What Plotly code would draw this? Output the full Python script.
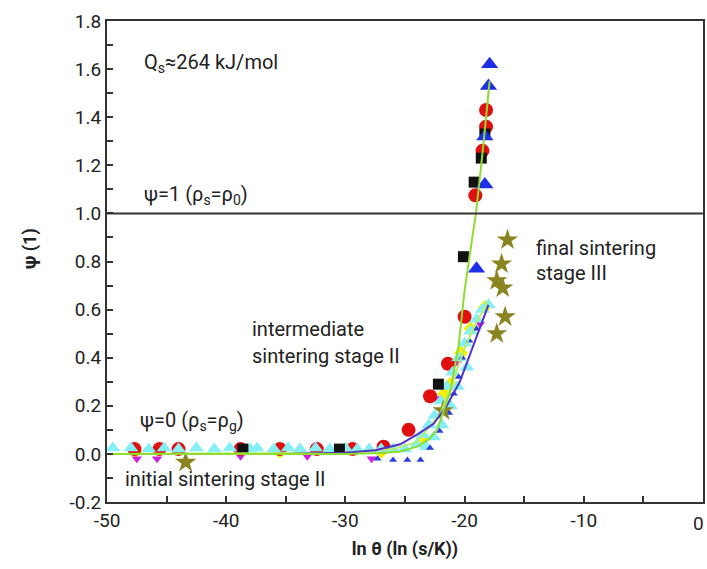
import plotly.graph_objects as go

# ---------------- data ----------------
red_x = [-47.7, -45.6, -44.0, -38.8, -35.5, -32.4, -29.4, -26.8, -24.7, -22.9, -21.4, -20.0, -19.1, -18.5, -18.2, -18.2]
red_y = [0.02, 0.02, 0.02, 0.02, 0.02, 0.02, 0.02, 0.03, 0.10, 0.24, 0.375, 0.57, 1.075, 1.26, 1.36, 1.43]

black_x = [-38.6, -30.5, -22.2, -20.1, -19.2, -18.6, -18.3]
black_y = [0.02, 0.02, 0.29, 0.82, 1.13, 1.23, 1.33]

blue_x = [-19.0, -18.3, -18.3, -18.0, -17.9]
blue_y = [0.77, 1.12, 1.32, 1.53, 1.62]

star_x = [-43.4, -21.8, -17.3, -16.6, -16.8, -17.3, -16.9, -16.4]
star_y = [-0.035, 0.18, 0.50, 0.57, 0.69, 0.72, 0.79, 0.89]

cyan_x = [-49.5, -48.0, -46.5, -45.2, -44.0, -42.5, -41.0, -39.7, -38.0, -37.4, -36.0, -34.8, -33.8,
          -32.5, -31.3, -30.0, -29.0, -28.0, -27.0, -26.0, -25.0, -24.0, -23.5, -23.0, -22.5, -22.0,
          -21.5, -21.0, -20.5, -20.0, -19.5, -19.0, -18.5, -18.0, -23.2, -22.6, -21.9, -21.2, -20.6, -19.8]
cyan_y = [0.025, 0.025, 0.02, 0.025, 0.02, 0.025, 0.02, 0.025, 0.02, 0.025, 0.02, 0.025, 0.02,
          0.025, 0.02, 0.025, 0.02, 0.02, 0.02, 0.02, 0.02, 0.04, 0.08, 0.12, 0.16, 0.22,
          0.28, 0.34, 0.40, 0.46, 0.51, 0.56, 0.60, 0.62, 0.03, 0.07, 0.12, 0.20, 0.28, 0.36]

yellow_x = [-47.6, -35.5, -27.0, -23.5, -21.7, -21.2, -20.3, -19.5, -18.3]
yellow_y = [0.01, 0.01, 0.01, 0.07, 0.25, 0.29, 0.42, 0.52, 0.61]

magenta_x = [-47.5, -45.8, -38.8, -33.2, -27.8, -22.3, -20.6, -18.7]
magenta_y = [-0.02, -0.02, -0.01, -0.01, -0.02, 0.23, 0.38, 0.54]

sblue_x = [-27.3, -26.0, -24.8, -23.7, -22.9, -22.1, -21.3, -20.9, -20.5, -20.2, -19.6, -19.0]
sblue_y = [-0.02, -0.025, -0.025, -0.025, 0.025, 0.095, 0.17, 0.25, 0.32, 0.40, 0.47, 0.52]

green_x = [-50, -40, -30, -27, -25.4, -24.0, -23.0, -22.3, -21.2, -20.5, -20.0, -19.5, -19.05, -18.5, -18.0, -17.9]
green_y = [0.0, 0.0, 0.0, 0.004, 0.01, 0.03, 0.06, 0.10, 0.26, 0.45, 0.68, 0.85, 1.0, 1.25, 1.5, 1.55]

lgreen_x = [-50, -30, -26, -24, -22, -21, -20, -19, -18]
lgreen_y = [0.0, 0.005, 0.02, 0.05, 0.17, 0.30, 0.44, 0.55, 0.63]

purple_x = [-50, -35, -30, -27.5, -25.4, -24.0, -22.6, -21.5, -20.4, -19.3, -18.0]
purple_y = [0.0, 0.0, 0.005, 0.015, 0.04, 0.08, 0.125, 0.20, 0.30, 0.45, 0.62]

x_ticks = [-50, -40, -30, -20, -10, 0]
x_labels = ["-50", "-40", "-30", "-20", "-10", ""]
y_ticks = [-0.2, 0.0, 0.2, 0.4, 0.6, 0.8, 1.0, 1.2, 1.4, 1.6, 1.8]

# ---------------- figure ----------------
fig = go.Figure()

def sc(x, y, sym, color, size):
    fig.add_trace(go.Scatter(x=x, y=y, mode="markers",
                             marker=dict(symbol=sym, color=color, size=size, line=dict(width=0)),
                             showlegend=False, hoverinfo="skip"))

sc(yellow_x, yellow_y, "diamond", "#f4f000", 11)
sc(magenta_x, magenta_y, "triangle-down", "#d020e0", 9)
sc(red_x, red_y, "circle", "#e01010", 14)
sc(cyan_x, cyan_y, "triangle-up", "#86eef5", 13)
sc(sblue_x, sblue_y, "triangle-up", "#2a3ee0", 7)
sc(black_x, black_y, "square", "#111111", 11)
sc(blue_x, blue_y, "triangle-up", "#1f2fe8", 15)
sc(star_x, star_y, "star", "#8a8420", 16)

for xs, ys, col, w in [(lgreen_x, lgreen_y, "#b8ee70", 2),
                       (purple_x, purple_y, "#5032c8", 2),
                       (green_x, green_y, "#8fdc2f", 2)]:
    fig.add_trace(go.Scatter(x=xs, y=ys, mode="lines", line=dict(color=col, width=w),
                             showlegend=False, hoverinfo="skip"))

fig.add_shape(type="line", xref="paper", x0=0, x1=1, yref="y", y0=1.0, y1=1.0,
              line=dict(color="#333333", width=2))

font = "Roboto, 'DejaVu Sans', sans-serif"
tc = "#222222"
ann_style = dict(showarrow=False, xref="x", yref="y", xanchor="left", yanchor="middle",
                 font=dict(family=font, size=20, color=tc))
texts = [
    (-47.06, 1.625, "Q<sub>s</sub>≈264 kJ/mol"),
    (-47.06, 1.075, "ψ=1 (ρ<sub>s</sub>=ρ<sub>0</sub>)"),
    (-47.4, 0.1375, "ψ=0 (ρ<sub>s</sub>=ρ<sub>g</sub>)"),
    (-48.66, -0.104, "initial sintering stage II"),
    (-38.0, 0.521, "intermediate"),
    (-38.0, 0.408, "sintering stage II"),
    (-14.18, 0.858, "final sintering"),
    (-14.18, 0.754, "stage III"),
]
for x, y, t in texts:
    fig.add_annotation(x=x, y=y, text=t, **ann_style)

# last x tick label, kept inside the page
fig.add_annotation(x=0, y=0, xref="x", yref="paper", text="0", showarrow=False,
                   xanchor="right", yanchor="top", xshift=3, yshift=-8,
                   font=dict(family=font, size=19, color=tc))

# y axis title
fig.add_annotation(x=-0.129, y=0.526, xref="paper", yref="paper", text="<b>ψ (1)</b>",
                   showarrow=False, textangle=-90, xanchor="center", yanchor="middle",
                   font=dict(family=font, size=18, color=tc))

axis_common = dict(showline=True, linecolor="#333333", linewidth=2, mirror=True,
                   ticks="inside", ticklen=6, tickwidth=1.5, tickcolor="#333333",
                   showgrid=False, zeroline=False, automargin=False,
                   tickfont=dict(family=font, size=19, color=tc))

fig.update_xaxes(range=[-50, 0], tickvals=x_ticks, ticktext=x_labels,
                 minor=dict(dtick=5, ticks="inside", ticklen=6, tickcolor="#333333"),
                 title=dict(text="<b>ln θ (ln (s/K))</b>", font=dict(family=font, size=18, color=tc),
                            standoff=12),
                 **axis_common)
fig.update_yaxes(range=[-0.2, 1.8], tickvals=y_ticks, ticktext=[f"{v:.1f}" for v in y_ticks],
                 minor=dict(dtick=0.1, tick0=0, ticks="inside", ticklen=6, tickcolor="#333333"),
                 **axis_common)

fig.update_layout(width=707, height=569, margin=dict(l=107, r=4, t=21, b=67),
                  plot_bgcolor="white", paper_bgcolor="white")

# remove the page's default body margin so the figure sits at the window origin
fig.write_html("out.html", config={"displayModeBar": False},
               post_script="document.body.style.margin='0';document.body.style.overflow='hidden';")
